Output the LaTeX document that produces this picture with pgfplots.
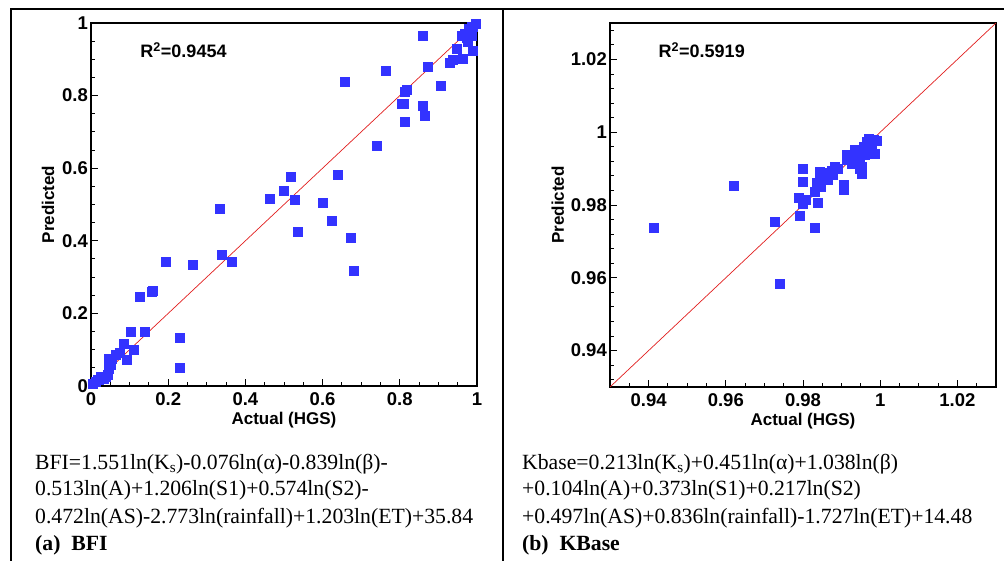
\documentclass[border=0pt]{standalone}
\usepackage{pgfplots}
\pgfplotsset{compat=1.18}
\usepackage{pgfplotstable}
\usepackage{fontspec}
\setmainfont{Liberation Sans}
\newfontfamily\tnr{Liberation Serif}
\definecolor{ptblue}{RGB}{51,51,255}
\definecolor{lnred}{RGB}{225,30,30}

\pgfplotstableread{
x y
0.860 0.964
0.764 0.870
0.656 0.839
0.872 0.879
0.906 0.828
0.817 0.817
0.813 0.812
0.804 0.778
0.809 0.777
0.860 0.771
0.864 0.746
0.813 0.728
0.741 0.663
0.929 0.891
0.938 0.899
0.946 0.928
0.964 0.902
0.989 0.925
0.976 0.949
0.968 0.971
0.983 0.975
0.978 0.984
0.987 0.989
0.996 0.998
0.974 0.961
0.960 0.966
0.985 0.965
0.990 0.990
0.518 0.578
0.639 0.581
0.498 0.539
0.463 0.515
0.528 0.514
0.599 0.506
0.623 0.455
0.535 0.425
0.672 0.409
0.680 0.319
0.332 0.488
0.339 0.361
0.364 0.342
0.264 0.333
0.194 0.343
0.158 0.259
0.161 0.262
0.126 0.245
0.104 0.151
0.138 0.151
0.229 0.132
0.229 0.050
0.085 0.117
0.111 0.101
0.073 0.092
0.063 0.086
0.092 0.072
0.046 0.076
0.054 0.076
0.047 0.049
0.043 0.030
0.033 0.021
0.024 0.026
0.020 0.017
0.011 0.012
0.005 0.006
0.016 0.017
0.037 0.026
0.050 0.060
}\bfidata

\pgfplotstableread{
x y
0.9412 0.9739
0.9621 0.9852
0.9727 0.9754
0.9739 0.9585
0.9830 0.9739
0.9791 0.9770
0.9837 0.9806
0.9800 0.9901
0.9800 0.9864
0.9790 0.9821
0.9798 0.9805
0.9807 0.9814
0.9830 0.9837
0.9835 0.9861
0.9843 0.9892
0.9856 0.9878
0.9869 0.9887
0.9865 0.9869
0.9882 0.9905
0.9878 0.9882
0.9904 0.9855
0.9906 0.9841
0.9913 0.9937
0.9926 0.9914
0.9930 0.9933
0.9943 0.9942
0.9952 0.9887
0.9952 0.9905
0.9947 0.9924
0.9956 0.9960
0.9965 0.9974
0.9969 0.9983
0.9982 0.9980
0.9991 0.9978
0.9986 0.9942
0.9973 0.9951
0.9960 0.9937
0.9939 0.9928
0.9922 0.9937
0.9913 0.9925
0.9935 0.9951
0.9965 0.9956
0.9978 0.9965
0.9947 0.9901
0.9843 0.9869
0.9850 0.9885
0.9860 0.9890
0.9875 0.9895
0.9890 0.9900
0.9845 0.9850
0.9935 0.9915
0.9955 0.9945
0.9970 0.9968
}\kbasedata

\pgfplotsset{
  pstyle/.style={
    scale only axis, width=386pt,
    axis line style={line width=1.8pt},
    tick pos=left, tick align=inside,
    major tick length=7pt, minor tick length=4pt,
    tick style={black, line width=0.9pt},
    ticklabel style={font=\bfseries\fontsize{18.5}{18.5}\selectfont},
    yticklabel style={inner sep=3pt},
    xticklabel style={inner sep=2pt, yshift=-4.5pt},
    /pgf/number format/assume math mode=true,
    label style={font=\bfseries\fontsize{17}{17}\selectfont, inner sep=0pt},
    xlabel={Actual (HGS)}, ylabel={Predicted},
  },
}

\begin{document}
\begin{tikzpicture}[x=1pt,y=1pt]
\useasboundingbox (0,0) rectangle (1005,-561);
\draw[line width=1.5pt] (11,-561) -- (11,-9) -- (1004,-9);
\draw[line width=1.2pt] (503,-9) -- (503,-561);

\begin{axis}[pstyle, at={(91pt,-386pt)}, anchor=south west, height=363pt,
  xmin=0, xmax=1, ymin=0, ymax=1,
  xtick={0,0.2,0.4,0.6,0.8,1}, ytick={0,0.2,0.4,0.6,0.8,1},
  minor xtick={0.05,0.1,...,0.96}, minor ytick={0.05,0.1,...,0.96},
  xlabel style={at={(axis description cs:0.5,-0.071)}, anchor=north},
  ylabel style={at={(axis description cs:-0.111,0.5)}, anchor=center},
]
\addplot[lnred, line width=0.7pt] coordinates {(0,0) (1,1)};
\addplot[only marks, mark=square*, mark size=4.5pt, color=ptblue, mark options={draw=ptblue, line width=0.3pt}] table[x=x,y=y] {\bfidata};
\node[anchor=west, font=\bfseries\fontsize{18}{18}\selectfont] at (axis cs:0.119,0.926) {R\textsuperscript{2}=0.9454};
\end{axis}

\begin{axis}[pstyle, at={(610pt,-387pt)}, anchor=south west, height=364pt,
  xmin=0.93, xmax=1.03, ymin=0.93, ymax=1.03,
  xtick={0.94,0.96,0.98,1,1.02}, ytick={0.94,0.96,0.98,1,1.02},
  minor xtick={0.935,0.945,0.95,0.955,0.965,0.97,0.975,0.985,0.99,0.995,1.005,1.01,1.015,1.025},
  minor ytick={0.932,0.936,0.944,0.948,0.952,0.956,0.964,0.968,0.972,0.976,0.984,0.988,0.992,0.996,1.004,1.008,1.012,1.016,1.024,1.028},
  xlabel style={at={(axis description cs:0.5,-0.070)}, anchor=north},
  ylabel style={at={(axis description cs:-0.135,0.5)}, anchor=center},
]
\addplot[lnred, line width=0.7pt] coordinates {(0.93,0.93) (1.03,1.03)};
\addplot[only marks, mark=square*, mark size=4.5pt, color=ptblue, mark options={draw=ptblue, line width=0.3pt}] table[x=x,y=y] {\kbasedata};
\node[anchor=west, font=\bfseries\fontsize{18}{18}\selectfont] at (axis cs:0.9417,1.0226) {R\textsuperscript{2}=0.5919};
\end{axis}

\begin{scope}[every node/.style={anchor=base west, inner sep=0pt, font=\tnr\fontsize{21.7}{21.7}\selectfont}]
\node at (35,-469) {BFI=1.551ln(K\textsubscript{s})-0.076ln(α)-0.839ln(β)-};
\node at (35,-496) {0.513ln(A)+1.206ln(S1)+0.574ln(S2)-};
\node at (35,-523) {0.472ln(AS)-2.773ln(rainfall)+1.203ln(ET)+35.84};
\node at (35,-550) {\bfseries (a)\ \ BFI};
\node at (522,-469) {Kbase=0.213ln(K\textsubscript{s})+0.451ln(α)+1.038ln(β)};
\node at (522,-496) {+0.104ln(A)+0.373ln(S1)+0.217ln(S2)};
\node at (522,-523) {+0.497ln(AS)+0.836ln(rainfall)-1.727ln(ET)+14.48};
\node at (522,-550) {\bfseries (b)\ \ KBase};
\end{scope}
\end{tikzpicture}
\end{document}
